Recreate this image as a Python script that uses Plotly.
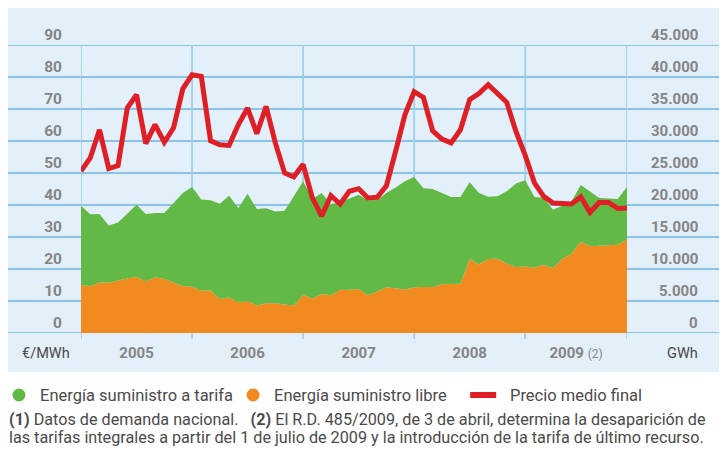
import plotly.graph_objects as go

# ---------------- data (monthly, Jan 2005 .. Dec 2009) ----------------
month_index = list(range(60))
year_labels = ["2005", "2006", "2007", "2008",
               "2009 <span style='font-size:12px;font-weight:normal'>(2)</span>"]
year_bounds = [0, 12, 24, 36, 48, 59]

# GWh
libre_gwh = [7550, 7300, 7900, 7850, 8200, 8500, 8750, 8050, 8700, 8450, 7900, 7300,
             7250, 6600, 6650, 5300, 5550, 4800, 5000, 4300, 4650, 4650, 4450, 4300,
             5925, 5375, 6100, 5900, 6700, 6750, 6875, 5900, 6500, 7150, 7000, 6800,
             7150, 7200, 7200, 7600, 7650, 7700, 11600, 10700, 11550, 11600, 10850, 10300,
             10400, 10200, 10675, 10150, 11550, 12400, 14250, 13550, 13650, 13700, 13800, 14600]
tarifa_gwh = [12350, 11250, 10700, 8950, 9050, 10150, 11300, 10550, 10050, 10300, 12400, 14575,
              15550, 14250, 14100, 14900, 15900, 14750, 16750, 15075, 14850, 14350, 14650, 17050,
              17775, 15575, 15775, 14250, 13700, 14250, 14725, 14850, 14300, 14725, 15750, 16900,
              17225, 15400, 15300, 14275, 13600, 13550, 11950, 11175, 9750, 9750, 11300, 13050,
              13450, 11050, 10475, 9100, 8350, 8150, 8875, 8550, 7450, 7300, 7150, 8200]
# €/MWh
precio = [50.6, 54.7, 63.5, 51.4, 52.3, 70.3, 74.5, 59.2, 65.1, 59.6, 64.1, 76.3,
          80.7, 80.2, 60.1, 58.8, 58.6, 65.1, 70.3, 62.3, 70.8, 59.4, 50.0, 48.8,
          52.7, 42.2, 36.5, 42.9, 40.3, 44.3, 45.1, 42.2, 42.4, 46.0, 56.8, 68.2,
          75.4, 73.6, 63.2, 60.6, 59.4, 63.5, 72.9, 74.8, 77.6, 75.0, 72.1, 63.0,
          55.5, 46.9, 42.7, 40.6, 40.4, 40.3, 42.5, 37.7, 40.8, 40.8, 38.9, 39.1]

left_ticks = [0, 10, 20, 30, 40, 50, 60, 70, 80, 90]
right_ticks = [0, 5000, 10000, 15000, 20000, 25000, 30000, 35000, 40000, 45000]
right_labels = ["0", "5.000", "10.000", "15.000", "20.000", "25.000",
                "30.000", "35.000", "40.000", "45.000"]

names = ["Energía suministro a tarifa", "Energía suministro libre", "Precio medio final"]

# ---------------- styling ----------------
GREEN = "#62B946"
ORANGE = "#F28B1F"
RED = "#DF1F26"
PANEL = "#E3EFF9"
GRID = "#6DB4E0"
VLINE = "#9DD1F0"
TICK = "#858585"
TEXT = "#4A4A4A"
FONT = "Roboto"

OFF = 8                     # page body margin
W, H = 727 - OFF, 452 - OFF
PX0, PX1 = 81, 626.75       # plot area in page pixels
PY0, PY1 = 45, 333
L = PX0 - OFF
R = W - (PX1 - OFF)
T = PY0 - OFF
B = H - (PY1 - OFF)
pw = PX1 - PX0
ph = PY1 - PY0


def px_x(x):
    """page x pixel -> paper coordinate"""
    return (x - PX0) / pw


def px_y(y):
    """page y pixel -> paper coordinate"""
    return (PY1 - y) / ph


fig = go.Figure()

fig.add_trace(go.Scatter(x=month_index, y=libre_gwh, stackgroup="one", mode="none",
                         name=names[1], fillcolor=ORANGE, yaxis="y", hoverinfo="skip"))
fig.add_trace(go.Scatter(x=month_index, y=tarifa_gwh, stackgroup="one", mode="none",
                         name=names[0], fillcolor=GREEN, yaxis="y", hoverinfo="skip"))
fig.add_trace(go.Scatter(x=month_index, y=precio, mode="lines", yaxis="y2", name=names[2],
                         line=dict(color=RED, width=5), hoverinfo="skip"))

shapes = []
# background panel
shapes.append(dict(type="rect", xref="paper", yref="paper", layer="below",
                   x0=px_x(OFF), x1=px_x(740), y0=px_y(372), y1=px_y(OFF),
                   fillcolor=PANEL, line=dict(width=0)))
# horizontal grid lines
for v in left_ticks:
    shapes.append(dict(type="line", xref="paper", yref="y2", layer="below",
                       x0=px_x(OFF), x1=px_x(740), y0=v, y1=v,
                       line=dict(color=GRID, width=1.4)))
# vertical year dividers
for b in year_bounds:
    shapes.append(dict(type="line", xref="x", yref="paper", layer="below",
                       x0=b, x1=b, y0=px_y(339), y1=1,
                       line=dict(color=VLINE, width=1.8)))

# ---- manual legend (symbols + labels) ----
LEG_Y = px_y(395)
leg_items = [  # (symbol kind, colour, symbol centre px, text left px)
    ("circle", GREEN, 19, 38),
    ("circle", ORANGE, 253, 272),
    ("bar", RED, 483, 508),
]
annotations = []
for (kind, col, cx, tx), nm in zip(leg_items, names):
    if kind == "circle":
        shapes.append(dict(type="circle", xref="paper", yref="paper",
                           xsizemode="pixel", ysizemode="pixel",
                           xanchor=px_x(cx), yanchor=LEG_Y,
                           x0=-6.5, x1=6.5, y0=-6.5, y1=6.5,
                           fillcolor=col, line=dict(width=0)))
    else:
        shapes.append(dict(type="rect", xref="paper", yref="paper",
                           xsizemode="pixel", ysizemode="pixel",
                           xanchor=px_x(cx), yanchor=LEG_Y,
                           x0=-13, x1=13, y0=-3, y1=3,
                           fillcolor=col, line=dict(width=0)))
    annotations.append(dict(x=px_x(tx), xref="paper", y=LEG_Y, yref="paper",
                            text=nm, showarrow=False, xanchor="left", yanchor="middle",
                            font=dict(family=FONT, size=16.5, color=TEXT)))

for v, lab in zip(right_ticks, right_labels):
    annotations.append(dict(x=px_x(700), xref="paper", y=v, yref="y", yshift=10,
                            text="<b>%s</b>" % lab, showarrow=False, xanchor="right",
                            yanchor="middle", font=dict(family=FONT, size=15, color=TICK)))
annotations.append(dict(x=px_x(20), xref="paper", y=px_y(353), yref="paper",
                        text="€/MWh", showarrow=False, xanchor="left", yanchor="middle",
                        font=dict(family=FONT, size=14.5, color=TEXT)))
annotations.append(dict(x=px_x(700), xref="paper", y=px_y(353), yref="paper",
                        text="GWh", showarrow=False, xanchor="right", yanchor="middle",
                        font=dict(family=FONT, size=14.5, color=TEXT)))
annotations.append(dict(x=px_x(7), xref="paper", y=px_y(419), yref="paper",
                        text="<b>(1)</b> Datos de demanda nacional.   <b>(2)</b> El R.D. 485/2009, de 3 de abril, determina la desaparición de",
                        showarrow=False, xanchor="left", yanchor="middle",
                        font=dict(family=FONT, size=16.2, color=TEXT)))
annotations.append(dict(x=px_x(7), xref="paper", y=px_y(437), yref="paper",
                        text="las tarifas integrales a partir del 1 de julio de 2009 y la introducción de la tarifa de último recurso.",
                        showarrow=False, xanchor="left", yanchor="middle",
                        font=dict(family=FONT, size=16.2, color=TEXT)))

year_centers = [(year_bounds[k] + year_bounds[k + 1]) / 2 for k in range(5)]

fig.update_layout(
    width=W, height=H,
    margin=dict(l=L, r=R, t=T, b=B, autoexpand=False),
    paper_bgcolor="white", plot_bgcolor="rgba(0,0,0,0)",
    font=dict(family=FONT, color=TEXT),
    showlegend=False,
    xaxis=dict(range=[0, 59], showgrid=False, zeroline=False, showline=False,
               tickmode="array", tickvals=year_centers,
               ticktext=["<b>%s</b>" % t for t in year_labels],
               ticks="", ticklabelstandoff=9,
               tickfont=dict(family=FONT, size=15, color=TICK)),
    yaxis=dict(range=[0, 45000], side="right", showgrid=False, zeroline=False,
               showline=False, showticklabels=False, ticks=""),
    yaxis2=dict(range=[0, 90], side="left", overlaying="y", showgrid=False,
                zeroline=False, showline=False, tickmode="array", tickvals=left_ticks,
                ticktext=["<b>%d</b>" % v for v in left_ticks], ticks="",
                ticklabelshift=-10, ticklabelstandoff=18,
                tickfont=dict(family=FONT, size=15.5, color=TICK)),
    shapes=shapes,
    annotations=annotations,
)

fig.write_html("out.html")
